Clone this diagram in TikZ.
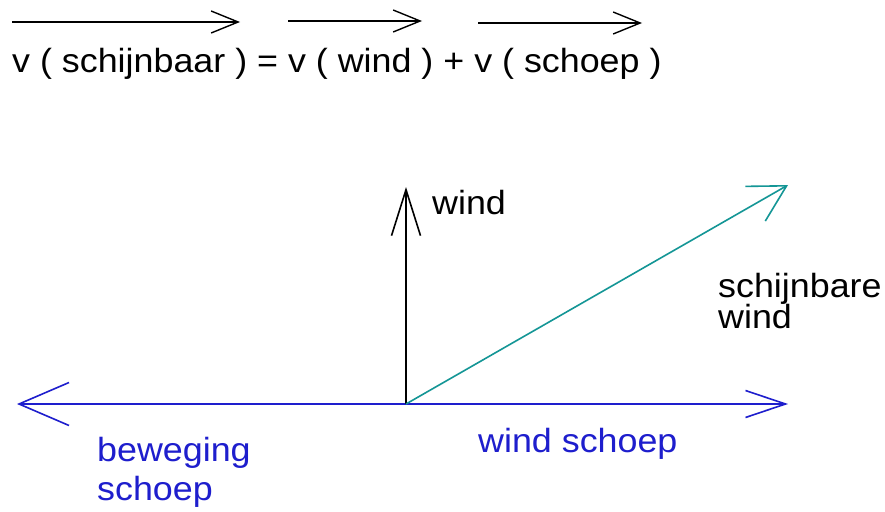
\documentclass[tikz,border=0pt]{standalone}
\usepackage{fontspec}
\setmainfont{Liberation Sans}[FakeStretch=1.07]
\usetikzlibrary{arrows.meta}
\definecolor{vblue}{RGB}{30,30,205}
\definecolor{vteal}{RGB}{20,150,150}
\begin{document}
\begin{tikzpicture}[x=1pt,y=-1pt,
  lbl/.style={inner sep=0pt,anchor=base west,font=\fontsize{33.5}{31}\selectfont},
  lblb/.style={lbl,text=vblue},
  vec/.style={line width=1.6pt},
  headA/.style={-{Straight Barb[length=27pt,width=22pt,line width=1.4pt]}},
]
\useasboundingbox (0,0) rectangle (885,511);
\fill[white] (0,0) rectangle (885,511);
% equation
\node[lbl] (eq) at (12,72) {v ( schijnbaar ) = v ( wind ) + v ( schoep )};
\coordinate (a1s) at (12,22); \coordinate (a1e) at (240,22);
\coordinate (a2s) at (288,21); \coordinate (a2e) at (422,21);
\coordinate (a3s) at (478,23); \coordinate (a3e) at (642,23);
\draw[line width=1.4pt,headA] (a1s) -- (a1e);
\draw[line width=1.4pt,headA] (a2s) -- (a2e);
\draw[line width=1.4pt,headA] (a3s) -- (a3e);
% vectors
\coordinate (O) at (406,404);
\coordinate (W) at (406,187);
\coordinate (S) at (788,185);
\coordinate (R) at (788,404);
\coordinate (L) at (17,404);
\draw[vec,vblue,-{Straight Barb[length=40pt,width=27pt,line width=1.6pt]}] (O) -- (R);
\draw[vec,vblue,-{Straight Barb[length=50pt,width=43pt,line width=1.6pt]}] (O) -- (L);
\draw[vec,black,-{Straight Barb[length=46pt,width=29pt,line width=1.6pt]}] (O) -- (W);
\draw[vec,vteal,-{Straight Barb[length=36pt,width=40pt,line width=1.6pt]}] (O) -- (S);
% labels
\node[lbl] (lw) at (432,214) {wind};
\node[lbl] (ls1) at (718,297) {schijnbare};
\node[lbl] (ls2) at (718,328) {wind};
\node[lblb] (lb1) at (97,461) {beweging};
\node[lblb] (lb2) at (97,500) {schoep};
\node[lblb] (lws) at (478,452) {wind schoep};
\end{tikzpicture}
\end{document}
